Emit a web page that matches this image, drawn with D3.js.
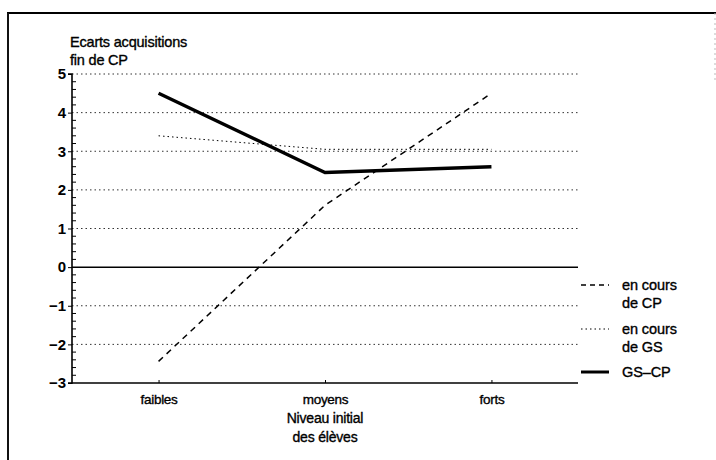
<!DOCTYPE html>
<html><head><meta charset="utf-8">
<script src="https://cdn.jsdelivr.net/npm/d3@7"></script>
<style>body{margin:0;background:#fff}svg{display:block}text{font-family:"Liberation Sans",Arial,sans-serif;fill:#000;stroke:#000;stroke-width:0.35}</style>
</head><body><svg id="c" width="716" height="460"></svg>
<script>
const categories = ["faibles", "moyens", "forts"];
const enCoursCP = [-2.44, 1.6, 4.5];
const enCoursGS = [3.4, 3.05, 3.05];
const gsCP = [4.5, 2.45, 2.6];
const yTicks = [-3, -2, -1, 0, 1, 2, 3, 4, 5];
const yTitle = ["Ecarts acquisitions", "fin de CP"];
const xTitle = ["Niveau initial", "des élèves"];
const legendItems = [
  {lines: ["en cours", "de CP"], dash: "5,4", w: 1.3},
  {lines: ["en cours", "de GS"], dash: "1.5,3", w: 1},
  {lines: ["GS–CP"], dash: null, w: 3}
];

const svg = d3.select("#c");
const x = d3.scalePoint().domain(categories).range([72, 578]).padding(0.52);
const y = d3.scaleLinear().domain([-3, 5]).range([383, 74]);

// frame
svg.append("line").attr("x1", 7).attr("x2", 716).attr("y1", 13).attr("y2", 13).attr("stroke", "#000").attr("stroke-width", 2);
svg.append("line").attr("x1", 8).attr("x2", 8).attr("y1", 13).attr("y2", 460).attr("stroke", "#111").attr("stroke-width", 2);
svg.append("line").attr("x1", 715).attr("x2", 715).attr("y1", 13).attr("y2", 80).attr("stroke", "#bbb").attr("stroke-width", 1).attr("stroke-dasharray", "2,3");

// grid
svg.append("g").selectAll("line").data(yTicks.filter(d => d !== 0 && d !== -3)).join("line")
  .attr("x1", 72).attr("x2", 578).attr("y1", d => y(d)).attr("y2", d => y(d))
  .attr("stroke", "#333").attr("stroke-width", 1).attr("stroke-dasharray", "1.5,3");
svg.append("line").attr("x1", 72).attr("x2", 578).attr("y1", y(0)).attr("y2", y(0)).attr("stroke", "#000").attr("stroke-width", 1.5);
svg.append("line").attr("x1", 72).attr("x2", 578).attr("y1", y(-3)).attr("y2", y(-3)).attr("stroke", "#000").attr("stroke-width", 1.5);

// y axis
const ya = svg.append("g").attr("transform", "translate(72,0)")
  .call(d3.axisLeft(y).tickValues(yTicks).tickSize(4).tickFormat(d => d < 0 ? "−" + Math.abs(d) : d));
ya.select(".domain").attr("stroke-width", 1.6).attr("d", `M-4,${y(5)}H0V${y(-3)}H-4`);
ya.selectAll("text").attr("font-size", 15).attr("font-weight", "bold").attr("x", -6).style("stroke-width", 0);
const minor = d3.range(-3, 5.001, 0.2).filter(v => Math.abs(v - Math.round(v)) > 0.01);
ya.append("g").selectAll("line").data(minor).join("line")
  .attr("x1", 0).attr("x2", 4).attr("y1", d => y(d)).attr("y2", d => y(d)).attr("stroke", "#000");

// x axis ticks and labels
const xa = svg.append("g").attr("transform", `translate(0,${y(-3)})`)
  .call(d3.axisBottom(x).tickSize(-3).tickPadding(9));
xa.select(".domain").remove();
xa.selectAll("text").attr("font-size", 13.5).attr("letter-spacing", -0.3).attr("dy", "0.9em");

// titles
svg.append("g").selectAll("text").data(yTitle).join("text")
  .attr("x", 70).attr("y", (d, i) => 47 + i * 18).attr("font-size", 14.5).attr("letter-spacing", -0.2).text(d => d);
svg.append("g").selectAll("text").data(xTitle).join("text")
  .attr("x", x("moyens")).attr("y", (d, i) => 423 + i * 19).attr("text-anchor", "middle").attr("font-size", 14).attr("letter-spacing", -0.2).text(d => d);

// series
const line = d3.line().x((d, i) => x(categories[i])).y(d => y(d));
svg.append("path").datum(enCoursGS).attr("d", line).attr("fill", "none").attr("stroke", "#000").attr("stroke-width", 1).attr("stroke-dasharray", "1.5,3");
svg.append("path").datum(enCoursCP).attr("d", line).attr("fill", "none").attr("stroke", "#000").attr("stroke-width", 1.5).attr("stroke-dasharray", "6,5");
svg.append("path").datum(gsCP).attr("d", line).attr("fill", "none").attr("stroke", "#000").attr("stroke-width", 3.4);

// legend
const lgY = [285, 329, 372];
const lg = svg.append("g").selectAll("g").data(legendItems).join("g")
  .attr("transform", (d, i) => `translate(0,${lgY[i]})`);
lg.append("line").attr("x1", 581).attr("x2", 609).attr("y1", 0).attr("y2", 0)
  .attr("stroke", "#000").attr("stroke-width", d => d.w).attr("stroke-dasharray", d => d.dash);
lg.each(function(d) {
  d3.select(this).selectAll("text").data(d.lines).join("text")
    .attr("x", 622).attr("y", (t, i) => 5 + i * 18).attr("font-size", 14.5).attr("letter-spacing", -0.1).text(t => t);
});
</script></body></html>
